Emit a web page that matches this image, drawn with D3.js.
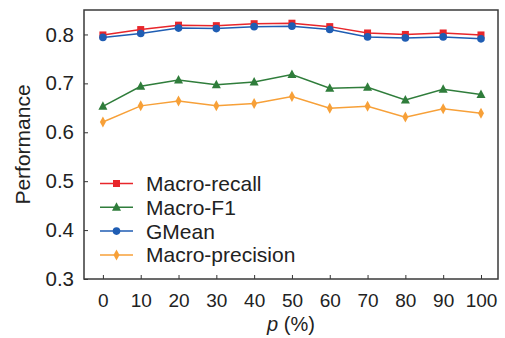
<!DOCTYPE html>
<html>
<head>
<meta charset="utf-8">
<script src="https://cdn.jsdelivr.net/npm/d3@7"></script>
<style>
  body { margin: 0; background: #fff; }
  text { font-family: "Liberation Sans", Arial, sans-serif; fill: #222; }
</style>
</head>
<body>
<div id="chart"></div>
<script>
// data
const pValues = [0, 10, 20, 30, 40, 50, 60, 70, 80, 90, 100];
const macroRecall = [0.799, 0.810, 0.819, 0.818, 0.822, 0.823, 0.816, 0.803, 0.800, 0.803, 0.799];
const macroF1 = [0.653, 0.694, 0.707, 0.697, 0.703, 0.718, 0.690, 0.692, 0.666, 0.688, 0.677];
const gMean = [0.794, 0.802, 0.813, 0.812, 0.816, 0.817, 0.810, 0.795, 0.793, 0.795, 0.791];
const macroPrecision = [0.621, 0.654, 0.664, 0.654, 0.659, 0.673, 0.649, 0.653, 0.631, 0.648, 0.639];
const yTicks = [0.3, 0.4, 0.5, 0.6, 0.7, 0.8];
const seriesNames = ["Macro-recall", "Macro-F1", "GMean", "Macro-precision"];

const series = [
  { name: seriesNames[0], values: macroRecall, color: "#e8262b", shape: "square" },
  { name: seriesNames[1], values: macroF1, color: "#2f7d3b", shape: "triangle" },
  { name: seriesNames[2], values: gMean, color: "#1f5db3", shape: "circle" },
  { name: seriesNames[3], values: macroPrecision, color: "#f7a038", shape: "diamond" }
];

const W = 505, H = 338;
const plotL = 84, plotR = 498, plotT = 10, plotB = 279;

const svg = d3.select("#chart").append("svg")
  .attr("width", W)
  .attr("height", H);

const x = d3.scaleLinear().domain([-5, 104.5]).range([plotL, plotR]);
const y = d3.scaleLinear().domain([0.3, 0.85]).range([plotB, plotT]);

// marker shapes
function marker(g, shape, color) {
  if (shape === "square") {
    g.append("rect").attr("x", -3.5).attr("y", -3.5).attr("width", 7).attr("height", 7).attr("fill", color);
  } else if (shape === "triangle") {
    g.append("path").attr("d", "M0,-5L4.5,3.5L-4.5,3.5Z").attr("fill", color);
  } else if (shape === "circle") {
    g.append("circle").attr("r", 3.8).attr("fill", color);
  } else {
    g.append("path").attr("d", "M0,-5.5L3,0L0,5.5L-3,0Z").attr("fill", color);
  }
}

// axes, ticks inward
const xAxis = svg.append("g")
  .attr("transform", `translate(0,${plotB})`)
  .call(d3.axisBottom(x).tickValues(pValues).tickSizeInner(-4).tickSizeOuter(0).tickPadding(15));
xAxis.select(".domain").remove();
xAxis.selectAll("line").attr("stroke", "#333").attr("stroke-width", 1);
xAxis.selectAll("text").attr("font-size", "19px").attr("fill", "#222").attr("font-family", "Liberation Sans, Arial, sans-serif");

const yAxis = svg.append("g")
  .attr("transform", `translate(${plotL},0)`)
  .call(d3.axisLeft(y).tickValues(yTicks).tickFormat(d3.format(".1f")).tickSizeInner(-4).tickSizeOuter(0).tickPadding(10));
yAxis.select(".domain").remove();
yAxis.selectAll("line").attr("stroke", "#333").attr("stroke-width", 1);
yAxis.selectAll("text").attr("font-size", "20.5px").attr("fill", "#222").attr("font-family", "Liberation Sans, Arial, sans-serif");

// frame
svg.append("rect")
  .attr("x", plotL).attr("y", plotT)
  .attr("width", plotR - plotL).attr("height", plotB - plotT)
  .attr("fill", "none").attr("stroke", "#3a3a3a").attr("stroke-width", 1.5);

// lines + markers
const line = d3.line().x((d, i) => x(pValues[i])).y(d => y(d));
series.forEach(s => {
  svg.append("path")
    .datum(s.values)
    .attr("d", line)
    .attr("fill", "none")
    .attr("stroke", s.color)
    .attr("stroke-width", 1.5);
  s.values.forEach((v, i) => {
    const g = svg.append("g").attr("transform", `translate(${x(pValues[i])},${y(v)})`);
    marker(g, s.shape, s.color);
  });
});

// legend
const legend = svg.append("g");
series.forEach((s, i) => {
  const cy = 183.5 + i * 23.8;
  legend.append("line")
    .attr("x1", 100).attr("x2", 133).attr("y1", cy).attr("y2", cy)
    .attr("stroke", s.color).attr("stroke-width", 1.5);
  marker(legend.append("g").attr("transform", `translate(116.5,${cy})`), s.shape, s.color);
  legend.append("text")
    .attr("x", 146).attr("y", cy + 7.5)
    .attr("font-size", "21px")
    .text(s.name);
});

// axis titles
svg.append("text")
  .attr("transform", "translate(30,144.5) rotate(-90)")
  .attr("text-anchor", "middle")
  .attr("font-size", "21px")
  .text("Performance");

const xt = svg.append("text")
  .attr("x", 291).attr("y", 331)
  .attr("text-anchor", "middle")
  .attr("font-size", "20px");
xt.append("tspan").attr("font-style", "italic").text("p");
xt.append("tspan").text(" (%)");
</script>
</body>
</html>
